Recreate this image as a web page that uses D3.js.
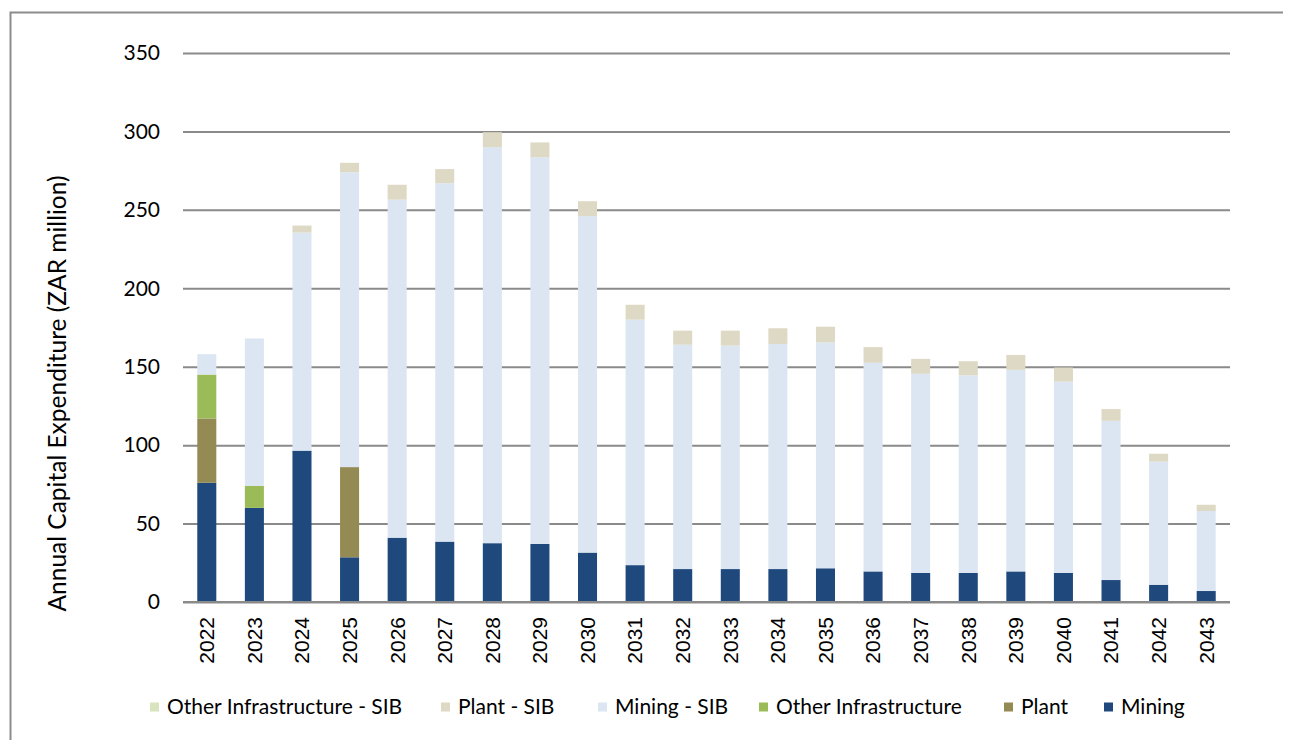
<!DOCTYPE html>
<html>
<head>
<meta charset="utf-8">
<script src="https://cdn.jsdelivr.net/npm/d3@7"></script>
<style>
  html, body { margin: 0; padding: 0; background: #fff; }
  svg { display: block; }
</style>
</head>
<body>
<svg id="chart" width="1292" height="740"></svg>
<script>
// Annual capital expenditure by category, ZAR million
const years = ["2022","2023","2024","2025","2026","2027","2028","2029","2030","2031","2032",
               "2033","2034","2035","2036","2037","2038","2039","2040","2041","2042","2043"];
const mining        = [76, 60, 96.5, 28.5, 41, 38.5, 37.5, 37, 31.5, 23.5, 21, 21, 21, 21.5, 19.5, 18.5, 18.5, 19.5, 18.5, 14, 11, 7];
const plant         = [41, 0, 0, 57.5, 0, 0, 0, 0, 0, 0, 0, 0, 0, 0, 0, 0, 0, 0, 0, 0, 0, 0];
const otherInfra    = [28, 14, 0, 0, 0, 0, 0, 0, 0, 0, 0, 0, 0, 0, 0, 0, 0, 0, 0, 0, 0, 0];
const miningSIB     = [13, 94, 139, 188, 215.5, 228.5, 252.5, 246.5, 214.5, 156.5, 143, 142.5, 143.5, 144, 133, 127, 126, 128.5, 122, 101.5, 78.5, 51];
const plantSIB      = [0, 0, 4.5, 6, 9.5, 9, 9.5, 9.5, 9.5, 9.5, 9, 9.5, 10, 10, 10, 9.5, 9, 9.5, 9, 7.5, 5, 4];
const otherInfraSIB = [0, 0, 0, 0, 0, 0, 0, 0, 0, 0, 0, 0, 0, 0, 0, 0, 0, 0, 0, 0, 0, 0];
const yTicks = [0, 50, 100, 150, 200, 250, 300, 350];

// Series in stacking order (bottom to top)
const seriesNames  = ["Mining", "Plant", "Other Infrastructure", "Mining - SIB", "Plant - SIB", "Other Infrastructure - SIB"];
const seriesValues = [mining, plant, otherInfra, miningSIB, plantSIB, otherInfraSIB];
const seriesColors = ["#1F497D", "#948A54", "#9BBB59", "#DCE6F2", "#DDD9C4", "#D7E4BD"];

const rows = years.map((yr, i) => {
  const r = { year: yr };
  seriesNames.forEach((n, k) => { r[n] = seriesValues[k][i]; });
  return r;
});

const svg = d3.select("#chart");
const plotLeft = 183, plotRight = 1230, plotTop = 53, plotBottom = 602;

// Frame around the figure
svg.append("path")
  .attr("d", "M10.5,740 L10.5,12.5 L1283,12.5")
  .attr("fill", "none").attr("stroke", "#8c8c8c").attr("stroke-width", 2);

const x = d3.scaleBand().domain(years).range([plotLeft, plotRight]).paddingInner(0.6).paddingOuter(0.3);
const y = d3.scaleLinear().domain([0, 350]).range([plotBottom, plotTop]);

// Horizontal gridlines with value labels
const yAxis = svg.append("g").attr("transform", `translate(${plotLeft},0)`)
  .call(d3.axisLeft(y).tickValues(yTicks).tickSize(-(plotRight - plotLeft)).tickPadding(23));
yAxis.select(".domain").remove();
yAxis.selectAll(".tick line").attr("stroke", "#8a8a8a").attr("stroke-width", 2);
yAxis.selectAll(".tick text")
  .attr("font-family", "Lato, 'Open Sans', sans-serif").attr("font-size", 21).attr("fill", "#000");

// Stacked bars
const stack = d3.stack().keys(seriesNames)(rows);
svg.append("g").selectAll("g").data(stack).join("g")
  .attr("fill", (d, i) => seriesColors[i])
  .selectAll("rect").data(d => d).join("rect")
  .attr("x", d => x(d.data.year))
  .attr("width", x.bandwidth())
  .attr("y", d => y(d[1]))
  .attr("height", d => Math.max(0, y(d[0]) - y(d[1])));

// Baseline redrawn over the bars
svg.append("line").attr("x1", plotLeft).attr("x2", plotRight).attr("y1", y(0)).attr("y2", y(0))
  .attr("stroke", "#8a8a8a").attr("stroke-width", 2);

// Year labels, rotated
const xAxis = svg.append("g").attr("transform", `translate(0,${plotBottom})`)
  .call(d3.axisBottom(x).tickSize(0).tickPadding(0));
xAxis.select(".domain").remove();
xAxis.selectAll(".tick text")
  .attr("font-family", "'Liberation Sans', Arial, sans-serif").attr("font-size", 21).attr("fill", "#000")
  .attr("transform", "rotate(-90)")
  .attr("x", -15).attr("y", 0).attr("dy", "0.35em")
  .attr("text-anchor", "end");

// Y axis title
svg.append("text")
  .attr("transform", `translate(66,${(175 + 612) / 2}) rotate(-90)`)
  .attr("text-anchor", "middle")
  .attr("font-family", "Lato, 'Open Sans', sans-serif").attr("font-size", 24.5).attr("fill", "#000")
  .text("Annual Capital Expenditure (ZAR million)");

// Legend (reverse stacking order)
const legendNames = seriesNames.slice().reverse();
const legendColors = seriesColors.slice().reverse();
const legendX = [150, 441, 598, 759, 1004, 1104];
const legend = svg.append("g").attr("transform", "translate(0,707)");
legendNames.forEach((n, i) => {
  const g = legend.append("g").attr("transform", `translate(${legendX[i]},0)`);
  g.append("rect").attr("x", 0).attr("y", -4.5).attr("width", 9).attr("height", 9).attr("fill", legendColors[i]);
  g.append("text").attr("x", 17).attr("y", 0).attr("dy", "0.35em")
    .attr("font-family", "Lato, 'Open Sans', sans-serif").attr("font-size", 21).attr("fill", "#000")
    .text(n);
});
</script>
</body>
</html>
